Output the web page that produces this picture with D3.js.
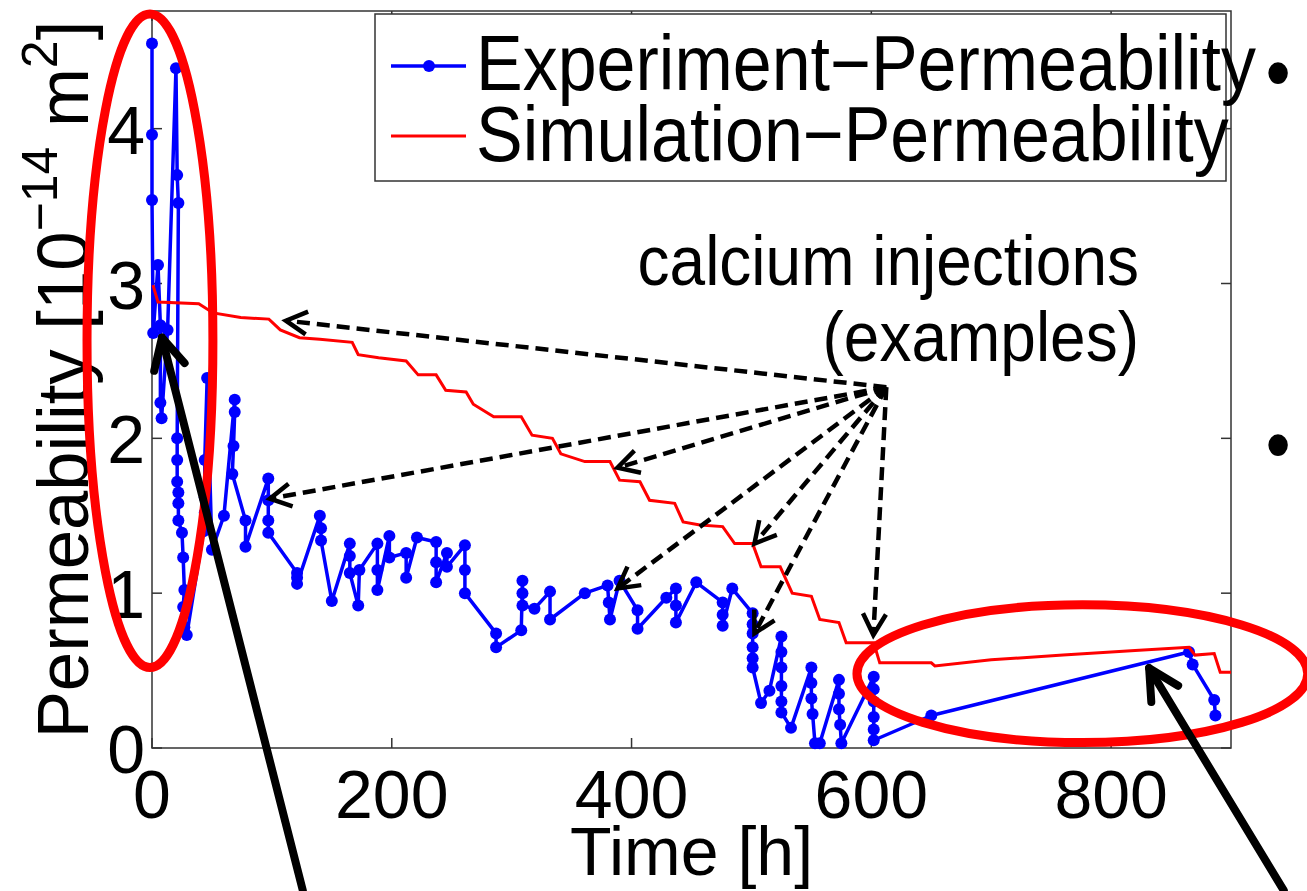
<!DOCTYPE html>
<html lang="en">
<head>
    <meta charset="UTF-8">
    <title>Permeability</title>
    <script type="text/javascript" src="https://cdnjs.cloudflare.com/ajax/libs/d3/7.8.5/d3.min.js"></script>
    <style>
        body { margin: 0; background: #fff; }
        text { font-family: "Liberation Sans", Arial, sans-serif; fill: #000; }
    </style>
</head>
<body>
<svg id="chart" width="1307" height="891"></svg>

<script type="text/javascript">
    // axis ticks
    const xTicks = [0, 200, 400, 600, 800];
    const yTicks = [0, 1, 2, 3, 4];

    // experiment (blue, time in h, permeability in 1e-14 m^2)
    const expTime = [0, 0, 0, 1, 5, 7, 7, 8, 13, 20, 21, 22, 21, 21, 21, 22, 22, 22, 25, 26, 27, 26, 27, 29,
        43, 44, 44, 44, 46, 50, 60, 69, 69, 68, 67, 78, 78, 97, 97, 97, 97, 121, 121, 121, 140, 141, 141, 150,
        165, 165, 165, 172, 173, 188, 188, 188, 198, 198, 212, 212, 221, 237, 237, 237, 246, 246, 261, 261, 261,
        287, 287, 308, 309, 309, 309, 319, 332, 332, 361, 380, 381, 382, 390, 405, 405, 429, 437, 437, 437,
        454, 476, 476, 476, 484, 501, 501, 501, 501, 501, 501, 508, 515, 525, 525, 525, 525, 525, 525, 533,
        550, 550, 550, 551, 553, 557, 573, 573, 573, 574, 575, 602, 602, 602, 602, 602, 602,
        650, 865, 868, 886, 887];
    const expPerm = [4.55, 3.96, 3.54, 2.68, 3.12, 2.73, 2.23, 2.13, 2.70, 4.39, 3.70, 3.52, 2.00, 1.86, 1.72, 1.65, 1.58, 1.47, 1.39, 1.23, 1.02, 0.91, 0.78, 0.73,
        1.40, 1.52, 1.62, 1.86, 2.39, 1.28, 1.50, 2.25, 2.17, 1.95, 1.77, 1.47, 1.30, 1.74, 1.60, 1.47, 1.39, 1.13, 1.10, 1.06, 1.50, 1.42, 1.34, 0.95,
        1.32, 1.24, 1.13, 0.92, 1.15, 1.32, 1.15, 1.02, 1.37, 1.23, 1.26, 1.10, 1.36, 1.33, 1.20, 1.07, 1.26, 1.17, 1.31, 1.15, 1.00,
        0.74, 0.65, 0.76, 1.08, 1.00, 0.92, 0.90, 1.01, 0.83, 1.00, 1.05, 0.94, 0.83, 1.08, 0.89, 0.77, 0.97, 1.03, 0.92, 0.81,
        1.07, 0.94, 0.86, 0.79, 1.03, 0.87, 0.80, 0.74, 0.65, 0.58, 0.52, 0.29, 0.37, 0.72, 0.62, 0.52, 0.40, 0.30, 0.23, 0.13,
        0.52, 0.42, 0.32, 0.22, 0.03, 0.03, 0.44, 0.35, 0.25, 0.15, 0.03, 0.46, 0.38, 0.30, 0.20, 0.12, 0.05,
        0.21, 0.62, 0.54, 0.31, 0.21];

    // simulation (red)
    const simTime = [0.8, 5, 39, 51, 74, 97.5, 107, 123, 140, 167, 172, 189, 212, 222, 237, 245, 262, 268, 285, 308,
        317, 334, 341, 361, 382, 390, 407, 415, 436, 443, 457, 476, 486, 501, 508, 524, 534, 550, 557, 573,
        579, 602, 607, 650, 653, 700, 760, 820, 865, 870, 886, 891, 900];
    const simPerm = [2.99, 2.88, 2.87, 2.81, 2.78, 2.77, 2.70, 2.65, 2.64, 2.62, 2.54, 2.52, 2.50, 2.41, 2.41, 2.31, 2.30, 2.22, 2.14, 2.14,
        2.02, 2.00, 1.90, 1.85, 1.85, 1.73, 1.72, 1.60, 1.58, 1.46, 1.44, 1.43, 1.32, 1.32, 1.17, 1.17, 1.00, 0.98, 0.83, 0.81,
        0.68, 0.68, 0.55, 0.55, 0.53, 0.57, 0.60, 0.63, 0.65, 0.60, 0.61, 0.49, 0.49];

    const seriesNames = ["Experiment\u2212Permeability", "Simulation\u2212Permeability"];
    const noteLines = ["calcium injections", "(examples)"];

    // dashed arrows: from the note to example injections (data units)
    const noteFrom = [612.5, 2.33];
    const injTime = [111.7, 98.3, 388.3, 388.3, 502.5, 502.5, 601.7];
    const injPerm = [2.76, 1.61, 1.81, 1.03, 1.32, 0.74, 0.73];

    // highlight ellipses [centre t, centre k, radius t, radius k]
    const ellipses = [[-1.7, 2.63, 52.5, 2.11], [776, 0.48, 188, 0.445]];
    // solid arrows [from t, from k, to t, to k]
    const bigArrows = [[125.8, -0.92, 8.3, 2.65], [944, -0.92, 831.7, 0.516]];

    const svg = d3.select("#chart");
    const x = d3.scaleLinear().domain([0, 900]).range([152, 1231]);
    const y = d3.scaleLinear().domain([0, 4.76]).range([748, 11]);

    const axisColor = "#333";
    const tickLen = 10;

    // text placed at (px, py), optionally stretched vertically (some glyphs are a bit tall in the figure)
    function label(g, px, py, str, size, anchor, sy) {
        return g.append("text")
            .attr("transform", "translate(" + px + "," + py + ") scale(1," + (sy || 1.1) + ")")
            .attr("text-anchor", anchor || "start")
            .attr("font-size", size)
            .text(str);
    }

    // plot box
    svg.append("rect")
        .attr("x", x(0)).attr("y", y(4.76))
        .attr("width", x(900) - x(0)).attr("height", y(0) - y(4.76))
        .attr("fill", "none").attr("stroke", axisColor).attr("stroke-width", 1.5);

    // ticks inside, on all four sides
    const ticks = svg.append("g").attr("stroke", axisColor).attr("stroke-width", 1.5);
    xTicks.forEach(function(t) {
        ticks.append("line").attr("x1", x(t)).attr("x2", x(t)).attr("y1", y(0)).attr("y2", y(0) - tickLen);
        ticks.append("line").attr("x1", x(t)).attr("x2", x(t)).attr("y1", y(4.76)).attr("y2", y(4.76) + tickLen);
    });
    yTicks.forEach(function(v) {
        ticks.append("line").attr("x1", x(0)).attr("x2", x(0) + tickLen).attr("y1", y(v)).attr("y2", y(v));
        ticks.append("line").attr("x1", x(900)).attr("x2", x(900) - tickLen).attr("y1", y(v)).attr("y2", y(v));
    });

    const tickText = svg.append("g");
    xTicks.forEach(function(t) {
        label(tickText, x(t), 818, t, 68, "middle", 1.0);
    });
    yTicks.forEach(function(v) {
        label(tickText, 145, y(v) + 25, v, 68, "end", 1.0);
    });

    // axis titles
    label(svg, x(450), 875, "Time [h]", 68, "middle", 1.0);

    const yLab = svg.append("text")
        .attr("transform", "translate(88," + y(2.38) + ") rotate(-90) scale(1.04,1.05)")
        .attr("text-anchor", "middle")
        .attr("font-size", 68);
    yLab.append("tspan").text("Permeability [10");
    yLab.append("tspan").attr("font-size", 48).attr("dy", -30).text("\u221214");
    yLab.append("tspan").attr("dy", 30).text(" m");
    yLab.append("tspan").attr("font-size", 48).attr("dy", -30).text("2");
    yLab.append("tspan").attr("dy", 30).text("]");

    // series
    const simData = simTime.map((t, i) => [t, simPerm[i]]);
    const expData = expTime.map((t, i) => [t, expPerm[i]]);
    const line = d3.line().x(d => x(d[0])).y(d => y(d[1]));

    svg.append("path")
        .attr("d", line(expData))
        .attr("fill", "none").attr("stroke", "#0000ff").attr("stroke-width", 3.5)
        .attr("stroke-linejoin", "round");
    svg.append("g").selectAll("circle")
        .data(expData).enter().append("circle")
        .attr("cx", d => x(d[0])).attr("cy", d => y(d[1]))
        .attr("r", 6).attr("fill", "#0000ff");

    svg.append("path")
        .attr("d", line(simData))
        .attr("fill", "none").attr("stroke", "#ff0000").attr("stroke-width", 3);

    // legend
    const leg = svg.append("g");
    leg.append("rect")
        .attr("x", 375).attr("y", 14).attr("width", 851).attr("height", 167)
        .attr("fill", "#fff").attr("stroke", axisColor).attr("stroke-width", 1.5);
    leg.append("line").attr("x1", 391).attr("x2", 466).attr("y1", 66).attr("y2", 66)
        .attr("stroke", "#0000ff").attr("stroke-width", 3.5);
    leg.append("circle").attr("cx", 429).attr("cy", 66).attr("r", 6).attr("fill", "#0000ff");
    leg.append("line").attr("x1", 391).attr("x2", 466).attr("y1", 136).attr("y2", 136)
        .attr("stroke", "#ff0000").attr("stroke-width", 3);
    seriesNames.forEach(function(name, i) {
        label(leg, 476, 90 + i * 71, name, 70);
    });

    // note text
    noteLines.forEach(function(str, i) {
        label(svg, 1139, 285 + i * 76, str, 64, "end");
    });

    function arrowHead(g, x0, y0, x1, y1, len, ang) {
        const a = Math.atan2(y0 - y1, x0 - x1);
        const p1 = [x1 + len * Math.cos(a + ang), y1 + len * Math.sin(a + ang)];
        const p2 = [x1 + len * Math.cos(a - ang), y1 + len * Math.sin(a - ang)];
        g.append("path")
            .attr("d", "M" + p1 + "L" + x1 + "," + y1 + "L" + p2)
            .attr("fill", "none");
    }

    // dashed arrows
    const dashed = svg.append("g").attr("stroke", "#000").attr("stroke-width", 4.5);
    injTime.forEach(function(t, i) {
        const x0 = x(noteFrom[0]), y0 = y(noteFrom[1]);
        const x1 = x(t), y1 = y(injPerm[i]);
        dashed.append("line")
            .attr("x1", x0).attr("y1", y0).attr("x2", x1).attr("y2", y1)
            .attr("stroke-dasharray", "13,7");
        arrowHead(dashed, x0, y0, x1, y1, 24, 0.5);
    });

    // red ellipses
    svg.append("g").selectAll("ellipse")
        .data(ellipses).enter().append("ellipse")
        .attr("cx", d => x(d[0])).attr("cy", d => y(d[1]))
        .attr("rx", d => x(d[2]) - x(0)).attr("ry", d => y(0) - y(d[3]))
        .attr("fill", "none").attr("stroke", "#ff0000").attr("stroke-width", 9);

    // solid black arrows
    const solid = svg.append("g").attr("stroke", "#000").attr("stroke-width", 8)
        .attr("stroke-linecap", "round").attr("stroke-linejoin", "round");
    bigArrows.forEach(function(a) {
        const x0 = x(a[0]), y0 = y(a[1]), x1 = x(a[2]), y1 = y(a[3]);
        solid.append("line").attr("x1", x0).attr("y1", y0).attr("x2", x1).attr("y2", y1);
        arrowHead(solid, x0, y0, x1, y1, 34, 0.48);
    });

    // bullets of the slide behind
    [100, 472].forEach(function(py) {
        label(svg, 1278, py, "\u2022", 72, "middle");
    });
</script>

</body>
</html>
